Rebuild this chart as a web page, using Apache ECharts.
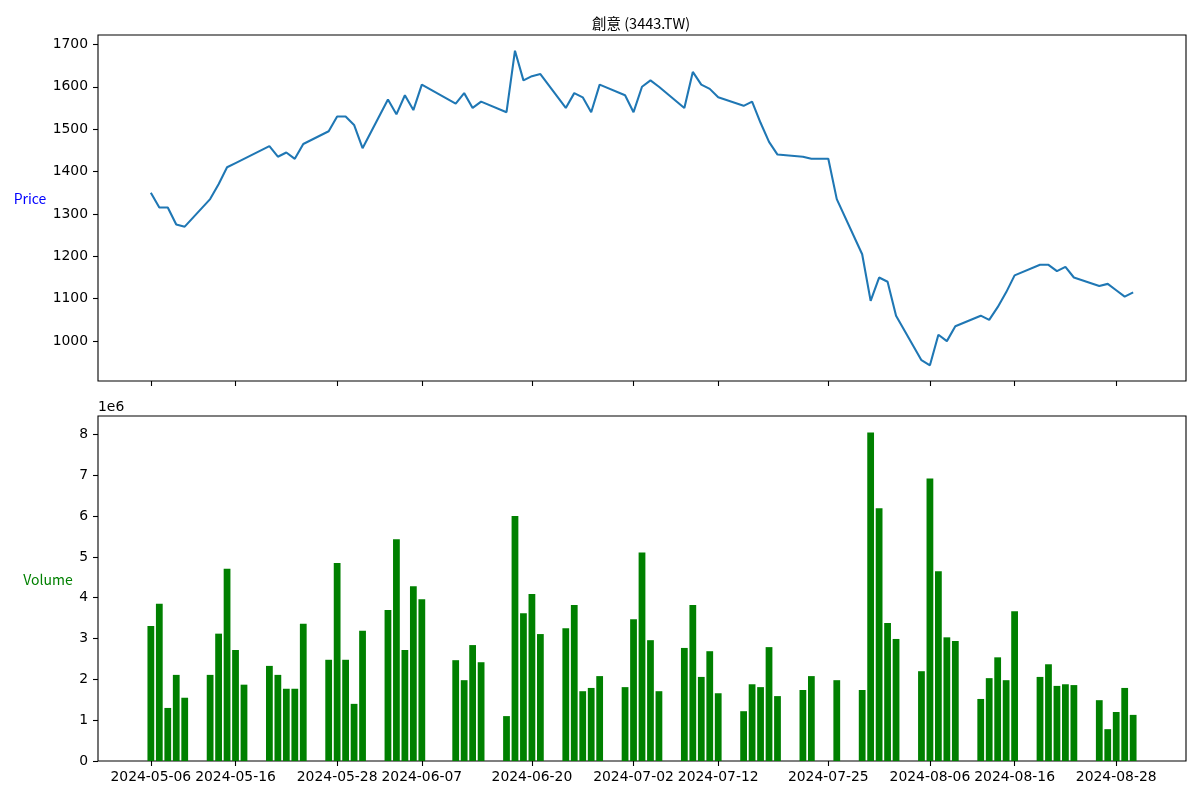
<!DOCTYPE html>
<html>
<head>
<meta charset="utf-8">
<script src="https://cdn.jsdelivr.net/npm/echarts@6/dist/echarts.min.js"></script>
<style>
html,body{margin:0;padding:0;background:#fff;}
#chart{width:1200px;height:800px;}
</style>
</head>
<body>
<div id="chart"></div>
<script>
const title = '創意 (3443.TW)';
const dates = [
  '2024-05-06','2024-05-07','2024-05-08','2024-05-09','2024-05-10',
  '2024-05-13','2024-05-14','2024-05-15','2024-05-16','2024-05-17',
  '2024-05-20','2024-05-21','2024-05-22','2024-05-23','2024-05-24',
  '2024-05-27','2024-05-28','2024-05-29','2024-05-30','2024-05-31',
  '2024-06-03','2024-06-04','2024-06-05','2024-06-06','2024-06-07',
  '2024-06-11','2024-06-12','2024-06-13','2024-06-14',
  '2024-06-17','2024-06-18','2024-06-19','2024-06-20','2024-06-21',
  '2024-06-24','2024-06-25','2024-06-26','2024-06-27','2024-06-28',
  '2024-07-01','2024-07-02','2024-07-03','2024-07-04','2024-07-05',
  '2024-07-08','2024-07-09','2024-07-10','2024-07-11','2024-07-12',
  '2024-07-15','2024-07-16','2024-07-17','2024-07-18','2024-07-19',
  '2024-07-22','2024-07-23','2024-07-25','2024-07-26',
  '2024-07-29','2024-07-30','2024-07-31','2024-08-01','2024-08-02',
  '2024-08-05','2024-08-06','2024-08-07','2024-08-08','2024-08-09',
  '2024-08-12','2024-08-13','2024-08-14','2024-08-15','2024-08-16',
  '2024-08-19','2024-08-20','2024-08-21','2024-08-22','2024-08-23',
  '2024-08-26','2024-08-27','2024-08-28','2024-08-29','2024-08-30'
];
const closePrices = [
  1350,1315,1315,1275,1270,
  1335,1370,1410,1420,1430,
  1460,1435,1445,1430,1465,
  1495,1530,1530,1510,1455,
  1570,1535,1580,1545,1605,
  1560,1585,1550,1565,
  1540,1685,1615,1625,1630,
  1550,1585,1575,1540,1605,
  1580,1540,1600,1615,1600,
  1550,1635,1605,1595,1575,
  1555,1565,1515,1470,1440,
  1435,1430,1430,1335,
  1205,1095,1150,1140,1060,
  955,943,1015,1000,1035,
  1060,1050,1080,1115,1155,
  1180,1180,1165,1175,1150,
  1130,1135,1120,1105,1115
];
const volumes = [
  3310000,3850000,1300000,2110000,1550000,
  2110000,3120000,4710000,2720000,1870000,
  2330000,2110000,1770000,1770000,3360000,
  2480000,4850000,2480000,1400000,3190000,
  3700000,5430000,2720000,4280000,3960000,
  2470000,1980000,2840000,2420000,
  1100000,6000000,3620000,4090000,3110000,
  3250000,3820000,1710000,1790000,2080000,
  1810000,3470000,5110000,2960000,1710000,
  2770000,3820000,2060000,2690000,1660000,
  1220000,1880000,1810000,2790000,1590000,
  1740000,2080000,0,1980000,
  1740000,8050000,6190000,3380000,2990000,
  2200000,6920000,4650000,3030000,2940000,
  1520000,2030000,2540000,1980000,3670000,
  2060000,2370000,1840000,1880000,1860000,
  1490000,780000,1200000,1790000,1130000
];
const xTickLabels = ['2024-05-06','2024-05-16','2024-05-28','2024-06-07','2024-06-20','2024-07-02','2024-07-12','2024-07-25','2024-08-06','2024-08-16','2024-08-28'];
const priceTicks = [1000,1100,1200,1300,1400,1500,1600,1700];
const volumeTicks = [0,1e6,2e6,3e6,4e6,5e6,6e6,7e6,8e6];

const DAY = 86400000;
function ts(s){ const p = s.split('-').map(Number); return Date.UTC(p[0], p[1]-1, p[2]); }
function fmt(v){ const d = new Date(Math.round(v/DAY)*DAY); const m = d.getUTCMonth()+1, dd = d.getUTCDate(); return d.getUTCFullYear()+'-'+(m<10?'0':'')+m+'-'+(dd<10?'0':'')+dd; }

const t0 = ts(dates[0]), t1 = ts(dates[dates.length-1]);
const span = (t1 - t0) + 0.8*DAY;
const xMin = t0 - 0.4*DAY - 0.05*span;
const xMax = t1 + 0.4*DAY + 0.05*span;

const pMin = Math.min(...closePrices), pMax = Math.max(...closePrices);
const pR = pMax - pMin;
const vMax = Math.max(...volumes);

const GRID_W = 1088;
const barPx = GRID_W / ((xMax - xMin)/DAY) * 0.8;

const tickFont = {fontFamily:'DejaVu Sans', fontSize:13.9, color:'#000'};
const tickVals = xTickLabels.map(ts);

const chart = echarts.init(document.getElementById('chart'), null, {renderer:'canvas'});
chart.setOption({
  animation:false,
  backgroundColor:'#fff',
  title:{
    text:title, left:636, top:11, textAlign:'center',
    textStyle:{fontFamily:'Noto Sans CJK TC', fontSize:14.5, fontWeight:'normal', color:'#000'}
  },
  graphic:[
    {type:'text', x:30, y:199, style:{text:'Price', fill:'blue', font:'14px "Noto Sans CJK TC"', textAlign:'center', textVerticalAlign:'middle'}},
    {type:'text', x:48, y:580, style:{text:'Volume', fill:'green', font:'14px "Noto Sans CJK TC"', textAlign:'center', textVerticalAlign:'middle'}},
    {type:'text', x:98, y:407, style:{text:'1e6', fill:'#000', font:'13.9px "DejaVu Sans"', textAlign:'left', textVerticalAlign:'middle'}}
  ],
  grid:[
    {left:98, top:35, width:GRID_W, height:346, show:true, borderColor:'#000', borderWidth:1.1, backgroundColor:'transparent'},
    {left:98, top:416, width:GRID_W, height:345, show:true, borderColor:'#000', borderWidth:1.1, backgroundColor:'transparent'}
  ],
  xAxis:[
    {type:'value', gridIndex:0, min:xMin, max:xMax, scale:true,
     axisLine:{show:false}, splitLine:{show:false},
     axisTick:{show:true, length:5, lineStyle:{color:'#000', width:1.1}, customValues:tickVals},
     axisLabel:{show:false, customValues:tickVals}},
    {type:'value', gridIndex:1, min:xMin, max:xMax, scale:true,
     axisLine:{show:false}, splitLine:{show:false},
     axisTick:{show:true, length:5, lineStyle:{color:'#000', width:1.1}, customValues:tickVals},
     axisLabel:Object.assign({show:true, margin:9, customValues:tickVals, formatter:(v)=>fmt(v), hideOverlap:false}, tickFont)}
  ],
  yAxis:[
    {type:'value', gridIndex:0, min:pMin-0.05*pR, max:pMax+0.05*pR, scale:true,
     axisLine:{show:false}, splitLine:{show:false},
     axisTick:{show:true, length:5, lineStyle:{color:'#000', width:1.1}, customValues:priceTicks},
     axisLabel:Object.assign({margin:10, customValues:priceTicks, formatter:(v)=>String(Math.round(v))}, tickFont)},
    {type:'value', gridIndex:1, min:0, max:vMax*1.05,
     axisLine:{show:false}, splitLine:{show:false},
     axisTick:{show:true, length:5, lineStyle:{color:'#000', width:1.1}, customValues:volumeTicks},
     axisLabel:Object.assign({margin:10, customValues:volumeTicks, formatter:(v)=>String(Math.round(v/1e6))}, tickFont)}
  ],
  series:[
    {type:'line', xAxisIndex:0, yAxisIndex:0, showSymbol:false, symbol:'none',
     lineStyle:{color:'#1f77b4', width:2.08}, itemStyle:{color:'#1f77b4'},
     data:dates.map((d,i)=>[ts(d), closePrices[i]])},
    {type:'bar', xAxisIndex:1, yAxisIndex:1, barWidth:barPx,
     itemStyle:{color:'#008000'},
     data:dates.map((d,i)=>[ts(d), volumes[i]])}
  ]
});
</script>
</body>
</html>
